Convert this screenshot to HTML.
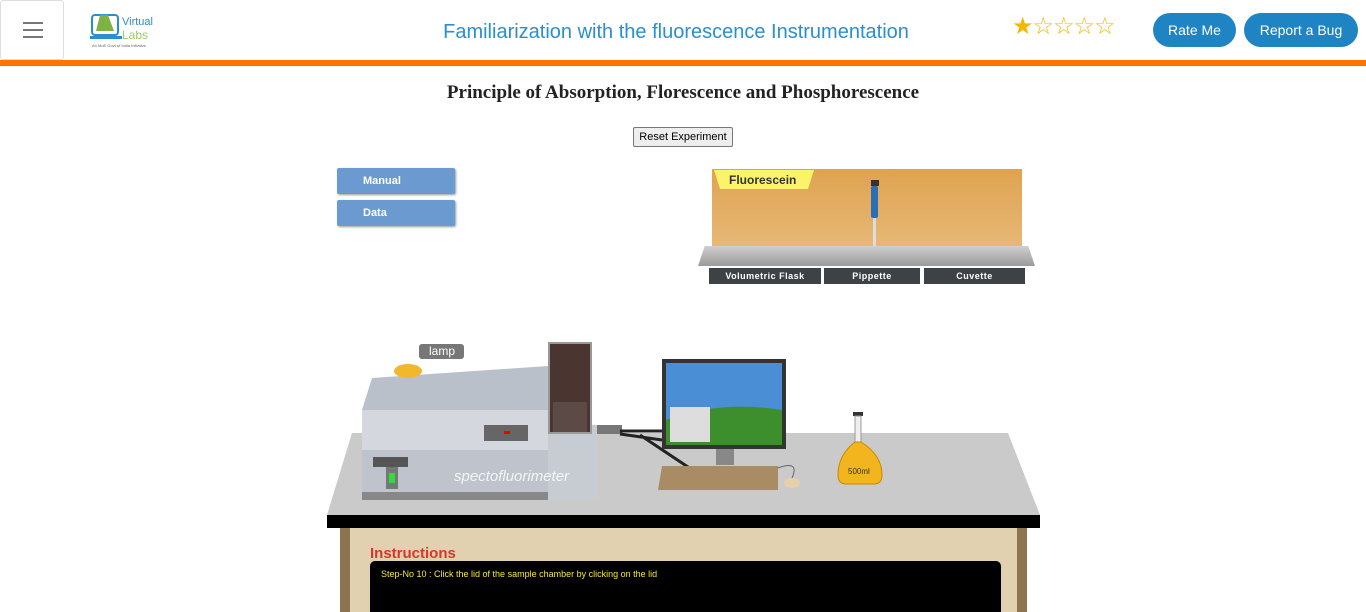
<!DOCTYPE html>
<html><head><meta charset="utf-8"><style>
body{margin:0;width:1366px;height:612px;overflow:hidden;background:#fff;font-family:"Liberation Sans",sans-serif;position:relative}
.a{position:absolute}
.btn{position:absolute;background:#1f84c4;color:#fff;border-radius:17px;font-size:14px;text-align:center;line-height:34px;top:13px;height:34px}
.side{position:absolute;left:337px;width:118px;height:26px;background:#6a9ad0;color:#fff;font-weight:bold;font-size:11px;line-height:26px;padding-left:26px;box-sizing:border-box;border-radius:2px;box-shadow:1px 1px 2px #999}
.lbl{position:absolute;top:268px;height:16px;background:#3c4246;color:#fff;font-size:9px;font-weight:bold;text-align:center;line-height:17px;letter-spacing:.5px}
</style></head><body>
<div class="a" style="left:0;top:0;width:62px;height:58px;border:1px solid #ddd;border-radius:3px">
<div class="a" style="left:22px;top:21px;width:20px;height:2px;background:#777"></div>
<div class="a" style="left:22px;top:28px;width:20px;height:2px;background:#777"></div>
<div class="a" style="left:22px;top:35px;width:20px;height:2px;background:#777"></div></div>
<div class="a" style="left:90px;top:11px;width:70px;height:38px">
<svg width="70" height="38"><rect x="2" y="4" width="26" height="20" rx="3" fill="none" stroke="#2a8fd0" stroke-width="2"/><path d="M10 4 L18 4 L24 20 L6 20Z" fill="#7cb342"/><rect x="0" y="25" width="32" height="3" fill="#2a8fd0"/>
<text x="32" y="14" font-size="11" fill="#2a8fd0" font-family="Liberation Sans">Virtual</text><text x="32" y="28" font-size="12" fill="#9ccc65" font-family="Liberation Sans">Labs</text><text x="2" y="36" font-size="4" fill="#666">An MoE Govt of India Initiative</text></svg></div>
<div class="a" style="left:376px;top:21px;width:600px;text-align:center;font-size:20px;color:#2a8fd0">Familiarization with the fluorescence Instrumentation</div>
<div class="a" style="left:1012px;top:12px;font-size:24px;color:#f5b800;letter-spacing:-1px">★☆☆☆☆</div>
<div class="btn" style="left:1153px;width:83px">Rate Me</div>
<div class="btn" style="left:1244px;width:114px">Report a Bug</div>
<div class="a" style="left:0;top:60px;width:1366px;height:6px;background:#ff7300"></div>
<div class="a" style="left:0;top:82px;width:1366px;text-align:center;font-family:'Liberation Serif',serif;font-weight:bold;font-size:19px;color:#222">Principle of Absorption, Florescence and Phosphorescence</div>
<div class="a" style="left:633px;top:127px;width:98px;height:18px;border:1px solid #777;background:#eee;font-size:11px;text-align:center;line-height:18px;border-radius:2px">Reset Experiment</div>
<div class="side" style="top:168px">Manual</div>
<div class="side" style="top:200px">Data</div>
<div class="a" style="left:712px;top:169px;width:310px;height:78px;background:linear-gradient(#dfa350,#e6b877)"></div>
<div class="a" style="left:714px;top:170px;width:100px;height:19px;background:#fbf46a;color:#333;font-weight:bold;font-size:12px;line-height:20px;padding-left:15px;box-sizing:border-box;clip-path:polygon(0 0,100% 0,94% 100%,6% 100%)">Fluorescein</div>
<svg class="a" style="left:866px;top:180px" width="18" height="78"><rect x="5" y="0" width="8" height="6" fill="#333"/><rect x="5" y="6" width="7" height="32" rx="2" fill="#2a6fb5"/><rect x="7" y="38" width="3" height="40" fill="#ddd"/></svg>
<div class="a" style="left:698px;top:246px;width:337px;height:20px;background:linear-gradient(#cfcfcf,#9a9a9a);clip-path:polygon(2% 0,98% 0,100% 100%,0 100%)"></div>
<div class="lbl" style="left:709px;width:112px">Volumetric Flask</div>
<div class="lbl" style="left:824px;width:96px">Pippette</div>
<div class="lbl" style="left:924px;width:101px">Cuvette</div>
<svg class="a" style="left:0;top:330px" width="1366" height="282">
<polygon points="352,103 1008,103 1040,185 327,185" fill="#cacaca"/>
<rect x="327" y="185" width="713" height="13" fill="#000"/>
<rect x="340" y="198" width="687" height="84" fill="#8d7451"/>
<rect x="350" y="198" width="667" height="84" fill="#e2d1b1"/>
<text x="370" y="228" font-size="15" font-weight="bold" fill="#d23a2b" font-family="Liberation Sans">Instructions</text>
<rect x="370" y="231" width="631" height="60" rx="5" fill="#000"/>
<text x="381" y="247" font-size="9" fill="#f5e83a" font-family="Liberation Sans">Step-No 10 : Click the lid of the sample chamber by clicking on the lid</text>
<g>
<polygon points="372,48 548,36 548,170 362,170 362,80" fill="#b9c0ca"/>
<rect x="362" y="80" width="186" height="90" fill="#d4d8de"/>
<rect x="362" y="120" width="235" height="50" fill="#bfc4cc"/>
<rect x="362" y="162" width="235" height="8" fill="#888"/>
<rect x="548" y="95" width="50" height="75" fill="#c7ccd3"/>
<rect x="549" y="13" width="42" height="90" fill="#4a3530" stroke="#999" stroke-width="2"/>
<rect x="553" y="72" width="34" height="30" fill="#5b4a45"/>
<rect x="484" y="95" width="44" height="16" fill="#666"/><rect x="504" y="101" width="6" height="3" fill="#e00"/>
<rect x="386" y="133" width="12" height="26" fill="#777"/><rect x="389" y="143" width="6" height="10" fill="#3d3"/>
<rect x="373" y="127" width="35" height="10" fill="#555"/>
<text x="454" y="151" font-size="15" font-style="italic" fill="#f4f4f4" font-family="Liberation Sans">spectofluorimeter</text>
<ellipse cx="408" cy="41" rx="14" ry="7" fill="#f2b82c"/>
<rect x="419" y="14" width="45" height="15" rx="3" fill="#777"/>
<text x="429" y="25" font-size="12" fill="#fff" font-family="Liberation Sans">lamp</text>
<rect x="597" y="95" width="25" height="9" fill="#777"/>
</g>
<path d="M620 101 L662 101 M620 104 L662 110 M640 105 L700 145" stroke="#222" stroke-width="3" fill="none"/>
<g>
<rect x="662" y="29" width="124" height="90" fill="#333"/>
<rect x="666" y="33" width="116" height="82" fill="#4a8fd6"/>
<path d="M666 90 Q720 70 782 80 L782 115 L666 115Z" fill="#3c8f2c"/>
<rect x="670" y="77" width="40" height="35" fill="#ddd"/>
<rect x="716" y="119" width="18" height="16" fill="#888"/>
<polygon points="662,136 778,136 778,160 658,160" fill="#a98c63"/>
<ellipse cx="792" cy="153" rx="8" ry="5" fill="#e6d2a8"/>
<path d="M778 138 Q800 130 792 148" stroke="#666" fill="none"/>
</g>
<g>
<rect x="853" y="82" width="10" height="4" fill="#333"/>
<rect x="855" y="86" width="6" height="26" fill="#eee" stroke="#999"/>
<path d="M855 112 L861 112 Q882 125 882 145 Q882 154 874 154 L846 154 Q838 154 838 145 Q838 125 855 112Z" fill="#f2b51d" stroke="#c58b00"/>
<text x="848" y="144" font-size="8" fill="#333" font-family="Liberation Sans">500ml</text>
</g>
</svg>
</body></html>
